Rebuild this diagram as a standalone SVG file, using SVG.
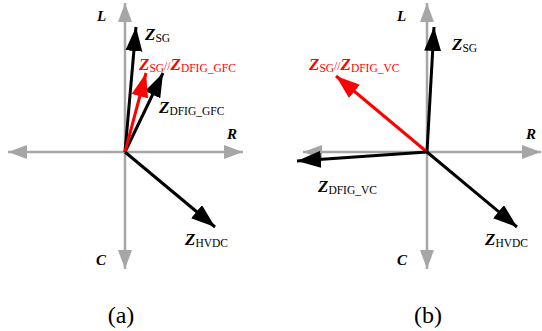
<svg xmlns="http://www.w3.org/2000/svg" width="542" height="331" viewBox="0 0 542 331">
<style>
.ax{stroke:#a6a6a6;stroke-width:2.5;fill:none}
.vk{stroke:#000;stroke-width:3;fill:none}
.vr{stroke:#f00;stroke-width:3;fill:none}
.lb{font-family:"Liberation Serif","Times New Roman",serif;font-size:15px;font-weight:bold;font-style:italic}
.z{font-family:"Liberation Serif","Times New Roman",serif;font-size:17px;font-weight:bold;font-style:italic}
.s{font-family:"Liberation Serif","Times New Roman",serif;font-size:11.5px;font-weight:normal;font-style:normal}
.cap{font-family:"Liberation Serif","Times New Roman",serif;font-size:24px}
</style>
<defs>
<marker id="ag" markerUnits="userSpaceOnUse" markerWidth="22" markerHeight="15" refX="19" refY="7" orient="auto"><path d="M0,0 L19,7 L0,14 Z" fill="#a6a6a6"/></marker>
<marker id="ak" markerUnits="userSpaceOnUse" markerWidth="26" markerHeight="18" refX="24" refY="8.5" orient="auto"><path d="M0,0 L24,8.5 L0,17 Z" fill="#000"/></marker>
<marker id="ar" markerUnits="userSpaceOnUse" markerWidth="26" markerHeight="18" refX="24" refY="8.5" orient="auto"><path d="M0,0 L24,8.5 L0,17 Z" fill="#f00"/></marker>
</defs>
<g id="connectors">
<line class="ax" x1="125" y1="152" x2="125" y2="3" marker-end="url(#ag)"/>
<line class="ax" x1="125" y1="152" x2="125" y2="269" marker-end="url(#ag)"/>
<line class="ax" x1="125" y1="152" x2="8" y2="152" marker-end="url(#ag)"/>
<line class="ax" x1="125" y1="152" x2="243" y2="152" marker-end="url(#ag)"/>
<line class="vk" x1="125" y1="152" x2="136" y2="27" marker-end="url(#ak)"/>
<line class="vk" x1="125" y1="152" x2="163" y2="73" marker-end="url(#ak)"/>
<line class="vr" x1="125" y1="152" x2="146" y2="73" marker-end="url(#ar)"/>
<line class="vk" x1="125" y1="152" x2="215" y2="227" marker-end="url(#ak)"/>
<line class="ax" x1="427" y1="152" x2="427" y2="3" marker-end="url(#ag)"/>
<line class="ax" x1="427" y1="152" x2="427" y2="269" marker-end="url(#ag)"/>
<line class="ax" x1="427" y1="152" x2="303" y2="152" marker-end="url(#ag)"/>
<line class="ax" x1="427" y1="152" x2="541" y2="152" marker-end="url(#ag)"/>
<line class="vk" x1="427" y1="152" x2="434" y2="27" marker-end="url(#ak)"/>
<line class="vr" x1="427" y1="152" x2="336" y2="76" marker-end="url(#ar)"/>
<line class="vk" x1="427" y1="152" x2="297" y2="161" marker-end="url(#ak)"/>
<line class="vk" x1="427" y1="152" x2="517" y2="227" marker-end="url(#ak)"/>
</g>
<g id="panel-a-labels">
<text class="lb" x="97" y="21">L</text>
<text class="lb" x="227" y="139">R</text>
<text class="lb" x="96" y="265">C</text>
<text class="z" x="145" y="40">Z<tspan class="s" dy="2">SG</tspan></text>
<text class="z" x="139" y="70" fill="#f00">Z<tspan class="s" dy="2">SG</tspan><tspan class="s" dy="-2">//</tspan>Z<tspan class="s" dy="2">DFIG_GFC</tspan></text>
<text class="z" x="159" y="113">Z<tspan class="s" dy="2">DFIG_GFC</tspan></text>
<text class="z" x="185" y="245">Z<tspan class="s" dy="2">HVDC</tspan></text>
<text class="cap" x="121" y="323" text-anchor="middle">(a)</text>
</g>
<g id="panel-b-labels">
<text class="lb" x="397" y="21">L</text>
<text class="lb" x="526" y="139">R</text>
<text class="lb" x="397" y="265">C</text>
<text class="z" x="452" y="50">Z<tspan class="s" dy="2">SG</tspan></text>
<text class="z" x="309" y="70" fill="#f00">Z<tspan class="s" dy="2">SG</tspan><tspan class="s" dy="-2">//</tspan>Z<tspan class="s" dy="2">DFIG_VC</tspan></text>
<text class="z" x="318" y="192">Z<tspan class="s" dy="2">DFIG_VC</tspan></text>
<text class="z" x="485" y="245">Z<tspan class="s" dy="2">HVDC</tspan></text>
<text class="cap" x="428" y="323" text-anchor="middle">(b)</text>
</g>
</svg>
